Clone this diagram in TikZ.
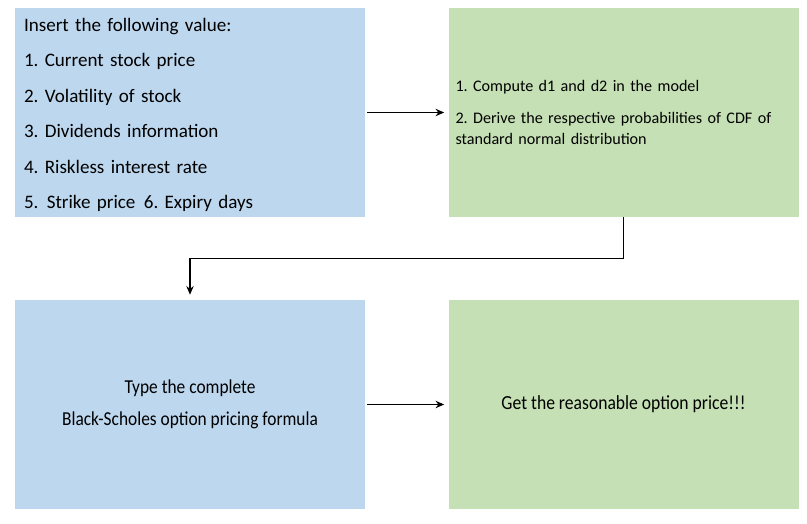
\documentclass[tikz,border=0pt]{standalone}
\usepackage{fontspec}
\setmainfont{Carlito}
\newfontfamily\condfont[FakeStretch=0.88]{Carlito}
\usetikzlibrary{arrows.meta}
\definecolor{boxblue}{HTML}{BDD7EE}
\definecolor{boxgreen}{HTML}{C5E0B4}
\hyphenpenalty=10000
\exhyphenpenalty=10000
\frenchspacing
\tikzset{
  panel/.style={rectangle, inner sep=0pt, minimum width=262.5pt, minimum height=156.75pt},
  bluebox/.style={panel, fill=boxblue},
  greenbox/.style={panel, fill=boxgreen},
  arr/.style={line width=1.1pt, -{Stealth[length=6.5pt,width=5.5pt]}},
}
\begin{document}
\begin{tikzpicture}[x=0.75pt, y=-0.75pt]
\useasboundingbox (0,0) rectangle (807,524);
\node[bluebox, text width=249pt, align=left, inner xsep=6.75pt,
      font=\fontsize{14.3pt}{26.6pt}\selectfont\frenchspacing] (t1) at (190,112.5)
  {\rule{0pt}{13.5pt}Insert the following value:\\
   1. Current stock price\\
   2. Volatility of stock\\
   3. Dividends information\\
   4. Riskless interest rate\\
   5. \kern1.5pt Strike price \kern1.5pt 6. Expiry days};
\node[greenbox, text width=252pt, align=left, inner xsep=5.25pt,
      font=\fontsize{12.1pt}{15.75pt}\selectfont\frenchspacing] (g1) at (623.5,112.5)
  {1. Compute d1 and d2 in the model\\[8pt]
   2. Derive the respective probabilities of CDF of standard normal distribution};
\node[bluebox, align=center, font=\fontsize{14.8pt}{24pt}\condfont] (b1) at (190,404.5)
  {Type the complete\\
   Black-Scholes option pricing formula};
\node[greenbox, align=center, font=\fontsize{15pt}{24pt}\condfont] (g2) at (623.5,404.5)
  {Get the reasonable option price!!!};
\draw[arr, shorten <=1.5pt, shorten >=3pt] (t1.east) -- (g1.west);
\draw[arr, shorten >=3.75pt] (g1.south) -- ++(0,41) -| (b1.north);
\draw[arr, shorten <=1.5pt, shorten >=3pt] (b1.east) -- (g2.west);
\end{tikzpicture}
\end{document}
